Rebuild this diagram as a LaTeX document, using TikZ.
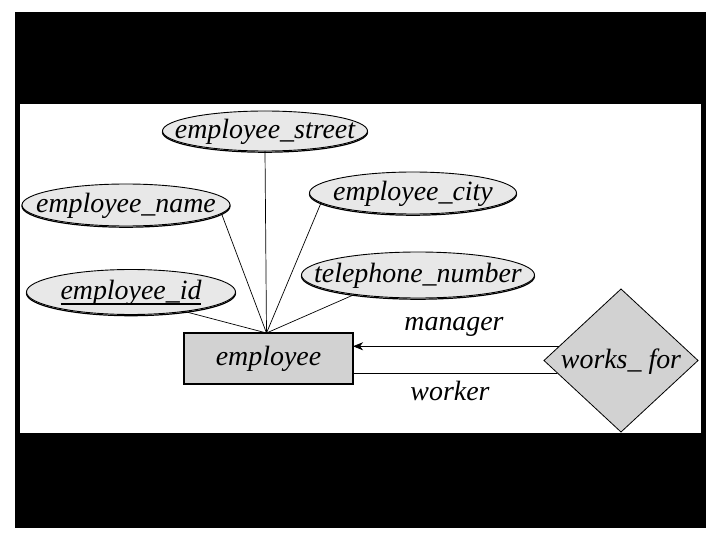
\documentclass[tikz,border=0pt]{standalone}
\usepackage{fontspec}
\setmainfont{Liberation Serif}
\usetikzlibrary{shapes.geometric,arrows.meta}
\definecolor{attrfill}{HTML}{E8E8E8}
\definecolor{entfill}{HTML}{D2D2D2}
\newcommand{\fixtext}[1]{\makebox[0pt]{\raisebox{-0.28em}[0pt][0pt]{#1}}}
\newcommand{\keyline}[1]{\setbox2=\hbox{#1}\rlap{\raisebox{-0.17em}{\rule{\wd2}{1.6bp}}}\box2}
\begin{document}
\begin{tikzpicture}[x=1bp,y=-1bp,
  every node/.style={font=\fontsize{28}{30}\selectfont\itshape, inner sep=0pt, outer sep=0pt},
  attr/.style={ellipse, draw=black, line width=0.9bp, fill=attrfill,
    preaction={draw=black, line width=1.2bp, transform canvas={yshift=-1.2bp}}},
  entity/.style={rectangle, draw=black, line width=1.1bp, fill=entfill, minimum width=169bp, minimum height=51bp},
  rel/.style={diamond, draw=black, line width=0.8bp, fill=entfill, minimum width=154bp, minimum height=143bp},
  conn/.style={line width=0.7bp},
  lbl/.style={}]
\useasboundingbox (0,0) rectangle (720,540);
\fill[white] (0,0) rectangle (720,540);
\fill[black] (15,12) rectangle (706,528);
\fill[white] (20,104) rectangle (701,433);

\node[attr, minimum width=205bp, minimum height=40bp] (street) at (265,131) {\fixtext{employee\_street}};
\node[attr, minimum width=208bp, minimum height=42bp] (name) at (126,205) {\fixtext{employee\_name}};
\node[attr, minimum width=207bp, minimum height=42bp] (city) at (413,193) {\fixtext{employee\_city}};
\node[attr, minimum width=209bp, minimum height=45bp] (id) at (131,292) {\fixtext{\keyline{employee\_id}}};
\node[attr, minimum width=233bp, minimum height=46bp] (tel) at (418,275) {\fixtext{telephone\_number}};

\node[entity] (emp) at (268.5,358.5) {employee};
\node[rel] (works) at (621,360.5) {\fixtext{works\_ for}};

\node[lbl] (mgr) at (454,327) {manager};
\node[lbl] (wkr) at (450,391) {worker};

\coordinate (hub) at ([xshift=-2bp]emp.north);
\draw[conn] (street.south) -- (hub);
\draw[conn] (name.-5) -- (hub);
\draw[conn] (id.-20) -- (hub);
\draw[conn] (city.186) -- (hub);
\draw[conn] (tel.197) -- (hub);

\draw[conn, -{Stealth[length=10bp,width=8bp,inset=3bp]}] (works.167.3) -- (works.167.3 -| emp.east);
\draw[conn] (works.191.7) -- (works.191.7 -| emp.east);
\end{tikzpicture}
\end{document}
